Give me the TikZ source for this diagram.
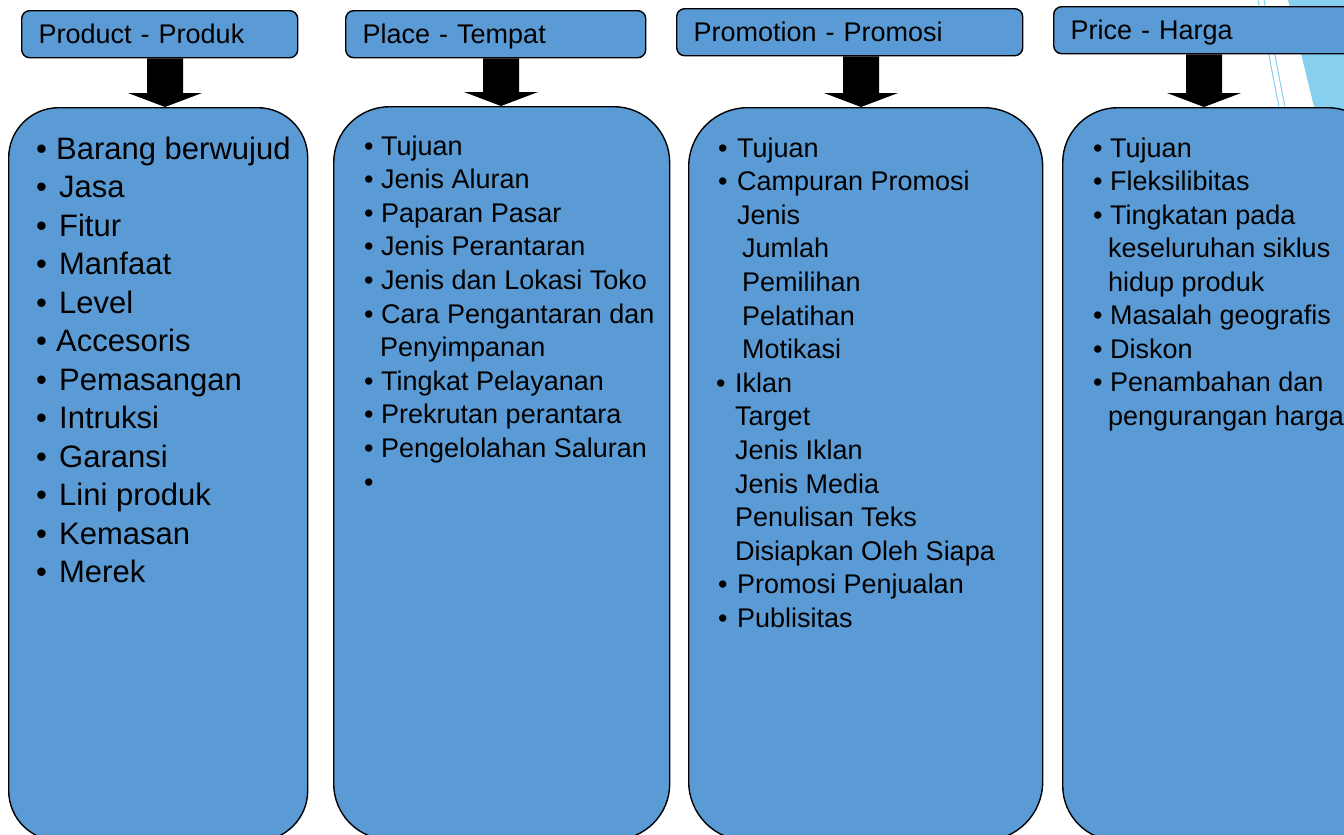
\documentclass[tikz,border=0pt]{standalone}
\usepackage{fontspec}
\setmainfont{Liberation Sans}
\usetikzlibrary{calc}
\definecolor{mktblue}{HTML}{5B9BD5}
\definecolor{deco}{HTML}{86CFEE}
\tikzset{
  hdbox/.style={draw,fill=mktblue,line width=1.4pt,rounded corners=8pt,anchor=north west,
    minimum height=47pt,inner xsep=17pt,inner ysep=0pt,align=left,
    text height=20pt,text depth=1.5pt,font=\fontsize{27}{32}\selectfont},
  colbox/.style={draw,fill=mktblue,line width=1.4pt,anchor=north west,minimum height=733pt},
  item/.style={anchor=base west,inner sep=0pt},
  bigtext/.style={font=\fontsize{31}{38}\selectfont},
  smalltext/.style={font=\fontsize{27}{33}\selectfont}
}
\newcommand{\itm}[1]{\makebox[#1][l]{\textbullet}}
\newcommand{\bigdown}[3]{%
  \fill (#3-18,0 |- #1.south) -- (#3+18,0 |- #1.south) -- ($(#3+18,0 |- #2.north)+(0,-14)$)
    -- ($(#3+37,0 |- #2.north)+(0,-14)$) -- (#3,0 |- #2.north)
    -- ($(#3-37,0 |- #2.north)+(0,-14)$) -- ($(#3-18,0 |- #2.north)+(0,-14)$) -- cycle;}

\begin{document}
\begin{tikzpicture}[x=1pt,y=-1pt]
\clip (0,0) rectangle (1344,835);
% background corner
\fill[deco] (1288,0) -- (1350,0) -- (1350,115) -- (1316,115) -- cycle;
\draw[deco,line width=1pt] (1258,0) -- (1280,112);
\draw[deco,line width=1pt] (1264,0) -- (1286,112);

% headers
\node[hdbox,text width=242pt] (prodhd) at (21,10) {Product - Produk};
\node[hdbox,text width=266pt] (placehd) at (345,10) {Place - Tempat};
\node[hdbox,text width=312pt] (promohd) at (676,8) {Promotion - Promosi};
\node[hdbox,text width=296pt] (pricehd) at (1053,6) {Price - Harga};

% columns
\node[colbox,minimum width=299pt,rounded corners=50pt] (prodbox) at (8,107) {};
\node[colbox,minimum width=336pt,rounded corners=56pt] (placebox) at (333,106) {};
\node[colbox,minimum width=354pt,rounded corners=59pt] (promobox) at (688,107) {};
\node[colbox,minimum width=320pt,rounded corners=55pt] (pricebox) at (1062,107) {};

% arrows
\bigdown{prodhd}{prodbox}{165}
\bigdown{placehd}{placebox}{501}
\bigdown{promohd}{promobox}{861}
\bigdown{pricehd}{pricebox}{1204}

% lists
\foreach \t [count=\i from 0] in {{\itm{20pt}Barang berwujud},{\itm{23pt}Jasa},{\itm{23pt}Fitur},
  {\itm{23pt}Manfaat},{\itm{23pt}Level},{\itm{20pt}Accesoris},{\itm{23pt}Pemasangan},
  {\itm{23pt}Intruksi},{\itm{23pt}Garansi},{\itm{23pt}Lini produk},{\itm{23pt}Kemasan},{\itm{23pt}Merek}}
  \node[item,bigtext] (prod\i) at (36,159+\i*38.5) {\t};

\foreach \t [count=\i from 0] in {{\itm{17pt}Tujuan},{\itm{17pt}Jenis Aluran},{\itm{17pt}Paparan Pasar},
  {\itm{17pt}Jenis Perantaran},{\itm{17pt}Jenis dan Lokasi Toko},{\itm{17pt}Cara Pengantaran dan},
  {\hspace*{16pt}Penyimpanan},{\itm{17pt}Tingkat Pelayanan},{\itm{17pt}Prekrutan perantara},
  {\itm{17pt}Pengelolahan Saluran},{\itm{17pt}}}
  \node[item,smalltext] (place\i) at (364,155+\i*33.6) {\t};

\foreach \t [count=\i from 0] in {{\itm{19pt}Tujuan},{\itm{19pt}Campuran Promosi},{\hspace*{19pt}Jenis},
  {\hspace*{24pt}Jumlah},{\hspace*{24pt}Pemilihan},{\hspace*{24pt}Pelatihan},{\hspace*{24pt}Motikasi},
  {\hspace*{-2pt}\itm{19pt}Iklan},{\hspace*{17pt}Target},{\hspace*{17pt}Jenis Iklan},
  {\hspace*{17pt}Jenis Media},{\hspace*{17pt}Penulisan Teks},{\hspace*{17pt}Disiapkan Oleh Siapa},
  {\itm{19pt}Promosi Penjualan},{\itm{19pt}Publisitas}}
  \node[item,smalltext] (promo\i) at (718,157+\i*33.6) {\t};

\foreach \t [count=\i from 0] in {{\itm{17pt}Tujuan},{\itm{17pt}Fleksilibitas},{\itm{17pt}Tingkatan pada},
  {\hspace*{15pt}keseluruhan siklus},{\hspace*{15pt}hidup produk},{\itm{17pt}Masalah geografis},
  {\itm{17pt}Diskon},{\itm{17pt}Penambahan dan},{\hspace*{15pt}pengurangan harga}}
  \node[item,smalltext] (price\i) at (1093,157+\i*33.5) {\t};
\end{tikzpicture}
\end{document}
